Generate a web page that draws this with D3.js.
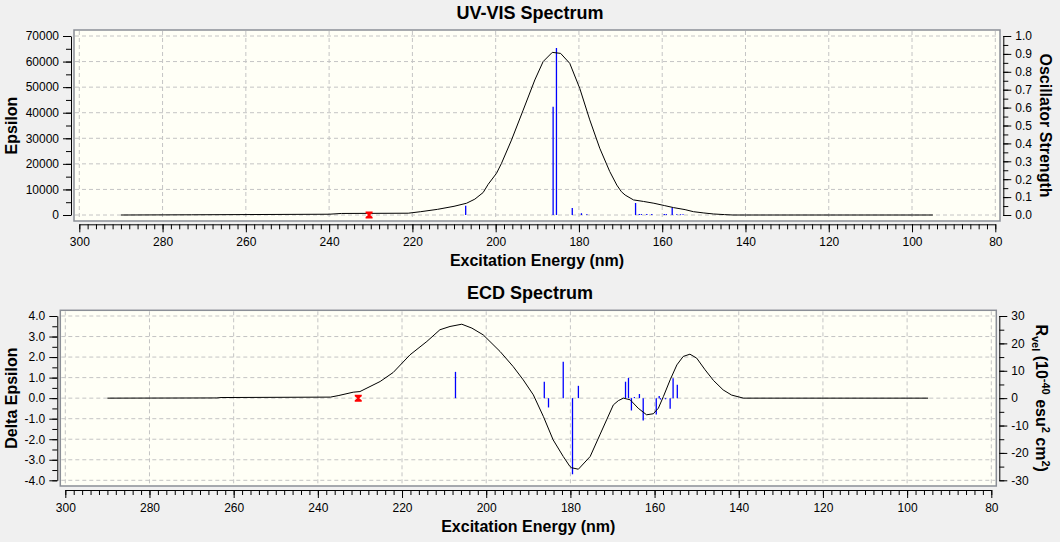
<!DOCTYPE html>
<html>
<head>
<meta charset="utf-8">
<script src="https://d3js.org/d3.v7.min.js"></script>
<style>
  body { margin: 0; background: #f0f0f0; }
  svg { display: block; font-family: "Liberation Sans", Arial, sans-serif; }
</style>
</head>
<body>
<div id="chart"></div>
<script>
// ---- data ----

// UV-VIS broadened curve: wavelength (nm) and epsilon
let arrUvNm  = [290, 273, 240, 237, 221, 218, 214, 210, 207, 205, 203, 201.8, 199.8, 198.6, 196.2, 193.4, 190.6, 188.6, 186.4, 184.4, 182.2, 179.8, 177.4, 175, 172.6, 170.9, 169.8, 168.9, 166.9, 164.5, 162, 159.5, 157.3, 154.5, 152.5, 150, 147.7, 145, 143, 95];
let arrUvEps = [0, 80, 300, 600, 700, 1300, 2200, 3400, 4600, 6200, 8800, 12000, 16300, 20200, 29300, 41000, 52800, 60000, 63600, 63200, 59300, 49500, 37200, 26100, 17000, 11700, 9100, 7800, 5900, 5300, 4600, 3700, 2900, 2100, 1300, 800, 400, 150, 0, 0];

// oscillator strength sticks
let arrOscNm = [207.2, 186.2, 185.4, 181.6, 179.4, 178.1, 166.4, 165.5, 165.0, 163.7, 162.5, 159.5, 159.0, 157.6, 156.5, 155.6, 155.0];
let arrOscF  = [0.052, 0.605, 0.933, 0.039, 0.010, 0.004, 0.067, 0.006, 0.005, 0.005, 0.005, 0.006, 0.005, 0.041, 0.004, 0.004, 0.004];

// ECD broadened curve: wavelength (nm) and delta epsilon
let arrEcdNm = [290, 264, 263, 237, 235, 231.6, 230, 225.2, 222.1, 218.1, 214.1, 211, 208.6, 205.8, 203.4, 200.7, 196.7, 193.6, 191.2, 188.8, 186.4, 184.1, 181.7, 180.1, 179.7, 178.1, 175.3, 173, 171.4, 169.8, 168.6, 167.4, 165.8, 163.9, 161.9, 160.3, 159.1, 157.9, 156.3, 154.7, 153.2, 151.6, 150, 148, 146, 143.7, 141.7, 138.9, 95];
let arrEcdDe = [0, 0.01, 0.03, 0.05, 0.13, 0.29, 0.32, 0.81, 1.25, 2.11, 2.76, 3.33, 3.49, 3.6, 3.41, 3.08, 2.27, 1.54, 0.89, 0.16, -0.9, -2.03, -2.84, -3.33, -3.39, -3.46, -2.84, -1.79, -1.06, -0.33, -0.12, 0, -0.08, -0.49, -0.81, -0.76, -0.49, 0.08, 0.89, 1.62, 2.03, 2.14, 1.95, 1.38, 0.86, 0.4, 0.15, 0, 0];

// rotatory strength sticks (10^-40 esu^2 cm^2)
let arrRotNm = [207.3, 186.2, 185.2, 181.7, 179.5, 178.1, 166.9, 166.2, 165.5, 164.8, 163.6, 162.7, 159.6, 158.9, 158.6, 157.4, 156.3, 155.6, 154.6];
let arrRotR  = [9.6, 6.0, -3.4, 13.3, -27.8, 4.5, 6.0, 7.4, -4.5, 0.4, 1.5, -8.2, -6.0, 0.8, -0.5, -0.4, -3.9, 7.3, 4.9];

// red marker on the zero line
let arrMarkNm = [230.4];

// tick values
let arrXTicks   = [300, 280, 260, 240, 220, 200, 180, 160, 140, 120, 100, 80];
let arrEpsTicks = [0, 10000, 20000, 30000, 40000, 50000, 60000, 70000];
let arrOscTicks = [0, 0.1, 0.2, 0.3, 0.4, 0.5, 0.6, 0.7, 0.8, 0.9, 1.0];
let arrDeTicks  = [-4, -3, -2, -1, 0, 1, 2, 3, 4];
let arrRTicks   = [-30, -20, -10, 0, 10, 20, 30];

// minor tick steps
let numXMinor = 2, numEpsMinor = 5000, numOscMinor = 0.05, numDeMinor = 0.5, numRMinor = 5;

// ---- drawing ----
let svg = d3.select("#chart")
  .append("svg")
  .attr("width", 1060)
  .attr("height", 542);

function fnSteps(lo, hi, step) {
  let n = Math.round((hi - lo) / step);
  return d3.range(n + 1).map(i => +(lo + i * step).toFixed(4));
}

// draw one axis (major + minor) inside group g
function fnAxis(g, fnMaker, fnScale, arrMajor, numStep, fmt, transform, padding) {
  let dom = fnScale.domain();
  let lo = Math.min(dom[0], dom[1]), hi = Math.max(dom[0], dom[1]);
  let arrMinor = fnSteps(lo, hi, numStep);
  let ga = g.append("g").attr("transform", transform);
  ga.append("g")
    .call(fnMaker(fnScale).tickValues(arrMinor).tickSize(5).tickSizeOuter(0).tickFormat(""))
    .call(s => s.select(".domain").remove());
  ga.append("g")
    .call(fnMaker(fnScale).tickValues(arrMajor).tickSize(8).tickSizeOuter(0).tickPadding(padding).tickFormat(fmt))
    .call(s => s.selectAll("text").attr("font-size", 12).attr("font-family", "Liberation Sans, Arial, sans-serif").attr("fill", "#000"));
  ga.selectAll("line, path").attr("stroke", "#000");
}

function fnPanel(o) {
  let g = svg.append("g");

  // title
  g.append("text")
    .attr("x", 530).attr("y", o.titleY)
    .attr("text-anchor", "middle")
    .attr("font-size", 18).attr("font-weight", "bold")
    .text(o.title);

  // plot frame
  g.append("rect")
    .attr("x", o.frame[0]).attr("y", o.frame[1])
    .attr("width", o.frame[2]).attr("height", o.frame[3])
    .attr("fill", "#fffff6")
    .attr("stroke", "#8a8e96")
    .attr("stroke-width", 1.5);

  // grid
  g.append("g").selectAll("line")
    .data(arrXTicks).enter().append("line")
    .attr("x1", d => o.x(d)).attr("x2", d => o.x(d))
    .attr("y1", o.frame[1] + 1).attr("y2", o.frame[1] + o.frame[3] - 1)
    .attr("stroke", "#c4c4c4").attr("stroke-dasharray", "4,3");
  g.append("g").selectAll("line")
    .data(o.leftTicks).enter().append("line")
    .attr("x1", o.frame[0] + 1).attr("x2", o.frame[0] + o.frame[2] - 1)
    .attr("y1", d => o.yL(d)).attr("y2", d => o.yL(d))
    .attr("stroke", "#c4c4c4").attr("stroke-dasharray", "4,3");

  // axes
  fnAxis(g, d3.axisBottom, o.x, arrXTicks, numXMinor, d3.format("d"), `translate(0,${o.axisY})`, 5);
  fnAxis(g, d3.axisLeft, o.yL, o.leftTicks, o.leftMinor, o.leftFmt, `translate(${o.leftX},0)`, 4);
  fnAxis(g, d3.axisRight, o.yR, o.rightTicks, o.rightMinor, o.rightFmt, `translate(${o.rightX},0)`, 4);

  // sticks
  g.append("g").selectAll("line")
    .data(o.stickNm).enter().append("line")
    .attr("x1", d => o.x(d)).attr("x2", d => o.x(d))
    .attr("y1", o.yR(0))
    .attr("y2", (d, i) => o.yR(o.stickVal[i]))
    .attr("stroke", "#0000ff").attr("stroke-width", 1.3);

  // broadened curve
  let fnLine = d3.line()
    .x((d, i) => o.x(o.curveNm[i]))
    .y((d, i) => o.yL(o.curveVal[i]));
  g.append("path")
    .attr("d", fnLine(o.curveNm))
    .attr("fill", "none")
    .attr("stroke", "#000")
    .attr("stroke-width", 1);

  // red marker
  g.append("g").selectAll("path")
    .data(arrMarkNm).enter().append("path")
    .attr("transform", d => `translate(${o.x(d)},${o.yL(0)})`)
    .attr("d", "M-3.5,-3.5H3.5V-2L1,0L3.5,2V3.5H-3.5V2L-1,0L-3.5,-2Z")
    .attr("fill", "#ff0000");

  // axis titles
  g.append("text")
    .attr("x", (o.frame[0] + o.frame[0] + o.frame[2]) / 2)
    .attr("y", o.axisY + 42)
    .attr("text-anchor", "middle")
    .attr("font-size", 16).attr("font-weight", "bold")
    .text("Excitation Energy (nm)");

  let yMid = (o.yL.range()[0] + o.yL.range()[1]) / 2;
  g.append("text")
    .attr("transform", `translate(16.5,${yMid}) rotate(-90)`)
    .attr("text-anchor", "middle")
    .attr("font-size", 16).attr("font-weight", "bold")
    .text(o.leftLabel);

  let tR = g.append("text")
    .attr("transform", `translate(${o.rightLabelX},${yMid}) rotate(90)`)
    .attr("text-anchor", "middle")
    .attr("font-size", 16).attr("font-weight", "bold");
  o.rightLabel.forEach(p => {
    tR.append("tspan")
      .attr("dy", p.dy || 0)
      .attr("font-size", p.size || 16)
      .text(p.t);
  });
}

// 1) UV-VIS panel
fnPanel({
  title: "UV-VIS Spectrum", titleY: 19,
  frame: [74, 30, 926, 191],
  x: d3.scaleLinear().domain([300, 80]).range([79.3, 995.3]),
  yL: d3.scaleLinear().domain([0, 70000]).range([215, 36]),
  yR: d3.scaleLinear().domain([0, 1]).range([215, 36]),
  axisY: 224.3, leftX: 71, rightX: 1003.3,
  leftTicks: arrEpsTicks, leftMinor: numEpsMinor, leftFmt: d3.format("d"),
  rightTicks: arrOscTicks, rightMinor: numOscMinor, rightFmt: d => d.toFixed(1),
  curveNm: arrUvNm, curveVal: arrUvEps,
  stickNm: arrOscNm, stickVal: arrOscF,
  leftLabel: "Epsilon",
  rightLabelX: 1040,
  rightLabel: [{ t: "Oscillator Strength" }]
});

// 2) ECD panel
fnPanel({
  title: "ECD Spectrum", titleY: 298.7,
  frame: [60.3, 310.3, 936, 175.7],
  x: d3.scaleLinear().domain([300, 80]).range([65.3, 991.3]),
  yL: d3.scaleLinear().domain([-4, 4]).range([480.3, 316]),
  yR: d3.scaleLinear().domain([-30, 30]).range([480.3, 316]),
  axisY: 490, leftX: 57.3, rightX: 999.3,
  leftTicks: arrDeTicks, leftMinor: numDeMinor, leftFmt: d => d.toFixed(1),
  rightTicks: arrRTicks, rightMinor: numRMinor, rightFmt: d => String(d),
  curveNm: arrEcdNm, curveVal: arrEcdDe,
  stickNm: arrRotNm, stickVal: arrRotR,
  leftLabel: "Delta Epsilon",
  rightLabelX: 1036,
  rightLabel: [
    { t: "R" },
    { t: "vel", size: 11, dy: 4 },
    { t: " (10", dy: -4 },
    { t: "-40", size: 11, dy: -6 },
    { t: " esu", dy: 6 },
    { t: "2", size: 11, dy: -6 },
    { t: " cm", dy: 6 },
    { t: "2", size: 11, dy: -6 },
    { t: ")", dy: 6 }
  ]
});
</script>
</body>
</html>
